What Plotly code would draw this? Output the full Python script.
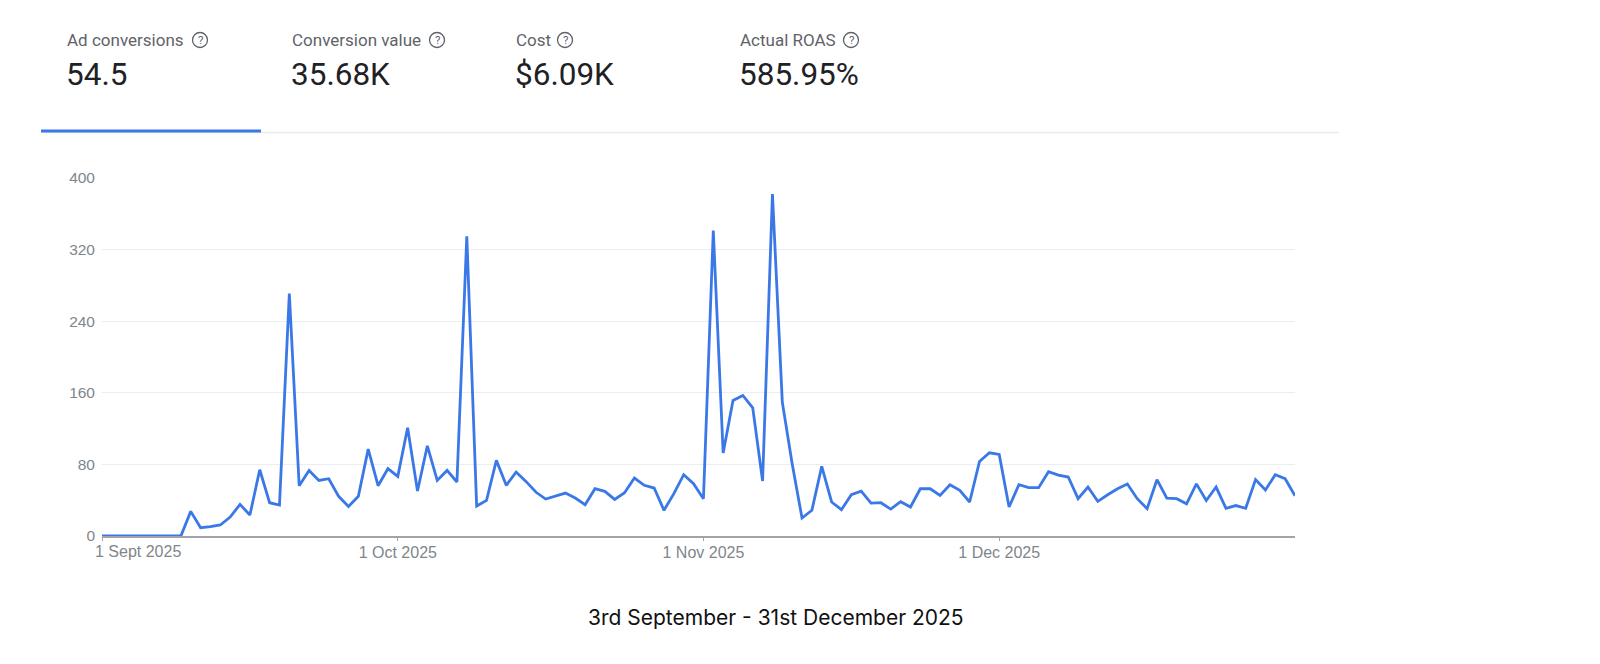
import pandas as pd
import plotly.graph_objs as go

# daily ad conversions, 1 Sept 2025 .. 31 Dec 2025
dates = pd.date_range("2025-09-01", "2025-12-31", freq="D")
conversions = [
    0, 0, 0, 0, 0, 0, 0, 0, 0, 27.5,
    9.3, 10.4, 12.3, 21.2, 35.3, 23.4, 74, 37.2, 34.6, 271,
    56.2, 73.3, 62.1, 64, 44.3, 33.1, 44.3, 97.1, 56.2, 75.2,
    66.6, 120.9, 50.2, 100.8, 62.1, 73.3, 60.3, 334.9, 33.5, 39.8,
    84.5, 56.6, 71.4, 61, 49.1, 41.3, 44.3, 48, 42.4, 35,
    52.8, 49.9, 40.9, 48.4, 64.7, 56.6, 53.6, 28.7, 47.3, 68.5,
    58.4, 41.7, 341.2, 92.7, 151.4, 157, 143.3, 61.4, 382.1, 149.6,
    80.7, 20.1, 28.7, 77.8, 38, 29.4, 46.1, 50.2, 36.8, 37.2,
    30.1, 38.3, 32.4, 52.8, 52.8, 45.4, 57.3, 51, 38, 83.3,
    93, 91.2, 32.4, 57.3, 54, 54, 71.8, 68.1, 65.9, 41.7,
    54.7, 38.7, 46.1, 52.8, 58, 41.7, 30.5, 62.9, 42.4, 41.7,
    36, 58.2, 39.6, 54.7, 31, 34, 31, 63, 51.5, 68.5,
    64, 45,
]

tick_dates = ["2025-09-01", "2025-10-01", "2025-11-01", "2025-12-01"]
tick_labels = ["1 Sept 2025", "1 Oct 2025", "1 Nov 2025", "1 Dec 2025"]
y_ticks = [0, 80, 160, 240, 320, 400]

metric_names = ["Ad conversions", "Conversion value", "Cost", "Actual ROAS"]
metric_values = ["54.5", "35.68K", "$6.09K", "585.95%"]
caption = "3rd September - 31st December 2025"

# page geometry (pixels)
width, height = 1600, 664
m_l, m_r, m_t, m_b = 94, 313, 170, 136
plot_w = width - m_l - m_r
plot_h = height - m_t - m_b
x_tick_font = dict(family="Liberation Sans", size=16, color="#80868b")
y_tick_font = dict(family="Liberation Sans", size=15.5, color="#80868b")


def px_x(x):
    return (x - m_l) / plot_w


def px_y(y):
    return (height - m_b - y) / plot_h


line_trace = go.Scatter(x=dates, y=conversions, mode="lines", name="Ad conversions",
                        line=dict(color="#3b78e7", width=2.8), hoverinfo="x+y")

fig = go.Figure(data=[line_trace])
fig.update_layout(
    width=width, height=height,
    margin=dict(l=m_l, r=m_r, t=m_t, b=m_b),
    paper_bgcolor="white", plot_bgcolor="white",
    showlegend=False,
    font=dict(family="Roboto", color="#5f6368"),
)
# first date label is drawn left-aligned (as in the source), others centred on their ticks
fig.update_xaxes(range=[dates[0], dates[-1]], tickvals=pd.to_datetime(tick_dates),
                 ticktext=[""] + tick_labels[1:],
                 showgrid=False, showline=True, linecolor="#a0a4a8", linewidth=1.5,
                 ticks="outside", ticklen=3, tickcolor="#a0a4a8", tickwidth=1,
                 ticklabelstandoff=-2, tickfont=x_tick_font, zeroline=False)
fig.update_yaxes(range=[0, 400], tickvals=y_ticks, showgrid=True, gridcolor="#ebedf0", gridwidth=1,
                 zeroline=False, showline=False, ticks="", ticklabelstandoff=6,
                 tickfont=y_tick_font)
fig.add_annotation(text=tick_labels[0], x=pd.Timestamp(tick_dates[0]), y=0, xref="x", yref="paper",
                   xanchor="left", yanchor="top", xshift=-9, yshift=-5, showarrow=False, font=x_tick_font)

# header scorecards
label_x = [57, 282, 506, 730]
icon_x = [192, 429, 557, 843]
for name, value, lx, ix in zip(metric_names, metric_values, label_x, icon_x):
    fig.add_annotation(text=name, x=px_x(lx), y=px_y(32), xref="paper", yref="paper",
                       xanchor="left", yanchor="middle", showarrow=False,
                       font=dict(family="Roboto", size=17, color="#5f6368"))
    fig.add_annotation(text=value, x=px_x(lx - 1), y=px_y(66), xref="paper", yref="paper",
                       xanchor="left", yanchor="middle", showarrow=False,
                       font=dict(family="Roboto", size=31.5, color="#202124"))
    fig.add_shape(type="circle", xref="paper", yref="paper",
                  x0=px_x(ix - 7.5), x1=px_x(ix + 7.5), y0=px_y(32 + 7.5), y1=px_y(32 - 7.5),
                  line=dict(color="#5f6368", width=1.3))
    fig.add_annotation(text="?", x=px_x(ix), y=px_y(32), xref="paper", yref="paper",
                       xanchor="center", yanchor="middle", showarrow=False,
                       font=dict(family="Roboto", size=11.5, color="#5f6368"))

# tab divider and selected underline
fig.add_shape(type="line", xref="paper", yref="paper", x0=px_x(33), x1=px_x(1331),
              y0=px_y(124.5), y1=px_y(124.5), line=dict(color="#e8eaed", width=1.5))
fig.add_shape(type="line", xref="paper", yref="paper", x0=px_x(33), x1=px_x(253),
              y0=px_y(123), y1=px_y(123), line=dict(color="#3b78e7", width=3))

fig.add_annotation(text=caption, x=px_x(768), y=px_y(609), xref="paper", yref="paper",
                   xanchor="center", yanchor="middle", showarrow=False,
                   font=dict(family="Inter", size=21, color="#111111"))

fig.write_html("out.html")
